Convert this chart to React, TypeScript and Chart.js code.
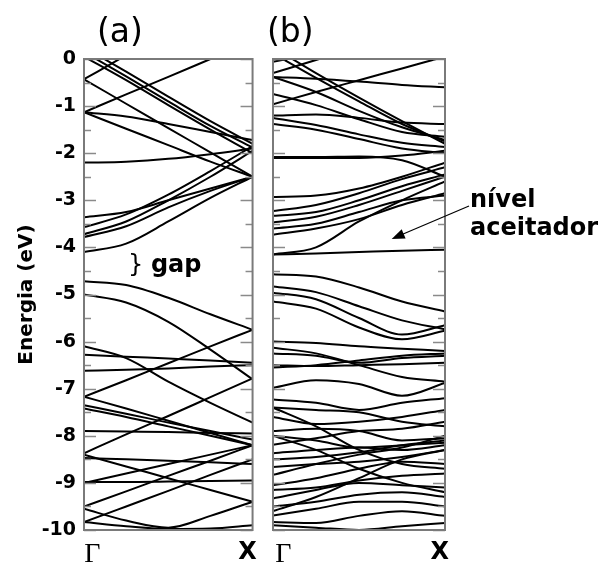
import React, { useEffect, useRef } from "react";
import { Chart, registerables } from "chart.js";
Chart.register(...registerables);

// k-path sample positions (Γ → X), fraction of the path
const kPath = [0, 0.25, 0.5, 0.75, 1];
const xTickLabels = ["Γ", "X"];
const energyMin = -10;
const energyMax = 0;

// Panel (a): band energies (eV) at the kPath points
const bandsA: number[][] = [
  [0.25, -0.27, -0.8, -1.32, -1.8],
  [0.15, -0.37, -0.9, -1.42, -1.88],
  [0.05, -0.45, -0.98, -1.5, -2.0],
  [-0.43, -0.95, -1.47, -1.98, -2.5],
  [-0.43, 0.08, 0.6, 1.1, 1.6],
  [-1.13, -0.75, -0.38, 0.0, 0.38],
  [-1.13, -1.22, -1.38, -1.55, -1.72],
  [-1.13, -1.48, -1.83, -2.18, -2.5],
  [-2.2, -2.18, -2.12, -2.02, -1.9],
  [-3.36, -3.25, -3.0, -2.75, -2.5],
  [-3.57, -3.3, -2.88, -2.38, -1.85],
  [-3.72, -3.45, -3.0, -2.5, -1.95],
  [-3.78, -3.55, -3.15, -2.8, -2.5],
  [-4.1, -3.92, -3.45, -2.95, -2.5],
  [-4.72, -4.8, -5.07, -5.42, -5.75],
  [-5.0, -5.17, -5.58, -6.17, -6.8],
  [-7.17, -6.82, -6.46, -6.1, -5.75],
  [-6.1, -6.35, -6.85, -7.3, -7.72],
  [-6.28, -6.32, -6.36, -6.4, -6.45],
  [-6.62, -6.6, -6.57, -6.53, -6.5],
  [-7.17, -7.42, -7.68, -7.94, -8.2],
  [-7.35, -7.53, -7.72, -7.9, -8.08],
  [-7.42, -7.6, -7.8, -8.0, -8.2],
  [-7.9, -7.91, -7.92, -7.94, -7.95],
  [-8.37, -7.97, -7.58, -7.18, -6.78],
  [-8.47, -8.5, -8.53, -8.56, -8.6],
  [-8.98, -8.98, -8.97, -8.96, -8.95],
  [-9.5, -9.18, -8.85, -8.53, -8.2],
  [-9.83, -9.5, -9.17, -8.83, -8.5],
  [-9.55, -9.8, -9.95, -9.7, -9.4],
  [-8.4, -8.65, -8.9, -9.15, -9.4],
  [-9.0, -8.8, -8.6, -8.4, -8.2],
  [-9.83, -9.92, -9.98, -9.97, -9.9],
];

// Panel (b): band energies (eV) at the kPath points
const bandsB: number[][] = [
  [-0.06, 0.12, 0.3, 0.5, 0.7],
  [0.25, -0.3, -0.82, -1.32, -1.8],
  [0.12, -0.4, -0.9, -1.38, -1.75],
  [-0.38, -0.42, -0.48, -0.55, -0.6],
  [-0.38, -0.7, -1.1, -1.45, -1.72],
  [-0.74, -0.98, -1.28, -1.55, -1.65],
  [-0.3, -0.02, 0.25, 0.5, 0.75],
  [-0.96, -0.7, -0.45, -0.2, 0.05],
  [-1.2, -1.18, -1.25, -1.35, -1.38],
  [-1.25, -1.4, -1.6, -1.78, -1.87],
  [-1.38, -1.5, -1.7, -1.9, -2.0],
  [-2.08, -2.08, -2.07, -2.15, -2.5],
  [-2.1, -2.1, -2.1, -2.05, -1.95],
  [-2.93, -2.9, -2.75, -2.5, -2.2],
  [-3.23, -3.1, -2.85, -2.55, -2.3],
  [-3.33, -3.25, -3.0, -2.7, -2.45],
  [-3.47, -3.35, -3.1, -2.8, -2.5],
  [-3.6, -3.5, -3.25, -3.0, -2.9],
  [-3.73, -3.6, -3.4, -3.1, -2.85],
  [-4.15, -4.0, -3.45, -3.0, -2.6],
  [-4.15, -4.13, -4.1, -4.07, -4.05],
  [-4.57, -4.62, -4.85, -5.15, -5.36],
  [-4.83, -4.95, -5.25, -5.55, -5.74],
  [-4.96, -5.1, -5.5, -5.85, -5.65],
  [-5.15, -5.3, -5.7, -5.95, -5.77],
  [-6.0, -6.03, -6.1, -6.15, -6.2],
  [-6.13, -6.25, -6.5, -6.75, -6.85],
  [-6.25, -6.3, -6.45, -6.35, -6.3],
  [-6.5, -6.52, -6.5, -6.48, -6.45],
  [-6.55, -6.5, -6.4, -6.3, -6.25],
  [-6.98, -6.82, -6.9, -7.15, -6.88],
  [-7.23, -7.3, -7.45, -7.3, -7.2],
  [-7.4, -7.45, -7.5, -7.7, -7.8],
  [-7.6, -7.75, -7.7, -7.6, -7.45],
  [-7.9, -7.85, -7.9, -8.1, -8.05],
  [-8.0, -8.1, -8.25, -8.2, -8.15],
  [-8.19, -8.05, -7.9, -7.85, -7.7],
  [-8.37, -8.3, -8.25, -8.3, -8.2],
  [-8.5, -8.45, -8.35, -8.2, -8.1],
  [-8.66, -8.6, -8.55, -8.45, -8.3],
  [-8.83, -8.6, -8.4, -8.25, -8.0],
  [-9.05, -8.9, -8.7, -8.55, -8.6],
  [-9.15, -9.1, -8.95, -8.85, -8.8],
  [-9.33, -9.15, -9.0, -9.05, -9.1],
  [-9.5, -9.4, -9.25, -9.2, -9.3],
  [-9.69, -9.55, -9.4, -9.4, -9.5],
  [-9.83, -9.85, -9.7, -9.6, -9.7],
  [-9.9, -9.95, -10.0, -9.92, -9.85],
  [-8.0, -8.3, -8.7, -9.0, -9.2],
  [-7.4, -7.8, -8.3, -8.6, -8.7],
  [-9.6, -9.3, -8.9, -8.5, -8.3],
];

const H = 568;

function makeDatasets(bands: number[][]) {
  return bands.map((b) => ({
    data: b.map((e, i) => ({ x: kPath[i], y: e })),
    borderColor: "#000",
    borderWidth: 2,
    pointRadius: 0,
    fill: false,
    cubicInterpolationMode: "monotone" as const,
    clip: 0,
  }));
}

const framePlugin = (withArrow: boolean) => ({
  id: "frame" + (withArrow ? "B" : "A"),
  afterDatasetsDraw(chart: any) {
    const { ctx, chartArea: a, scales } = chart;
    const ys = scales.y;
    ctx.save();
    ctx.strokeStyle = "#8a8a8a";
    ctx.lineWidth = 1.5;
    for (let v = energyMin; v <= energyMax + 1e-9; v += 0.5) {
      const py = Math.round(ys.getPixelForValue(v)) + 0.5;
      const len = Math.abs(v - Math.round(v)) < 1e-6 ? 12 : 7;
      ctx.beginPath();
      ctx.moveTo(a.left, py);
      ctx.lineTo(a.left + len, py);
      ctx.moveTo(a.right - len, py);
      ctx.lineTo(a.right, py);
      ctx.stroke();
    }
    ctx.strokeStyle = "#7a7a7a";
    ctx.lineWidth = 2;
    ctx.strokeRect(a.left, a.top, a.right - a.left, a.bottom - a.top);
    if (withArrow) {
      const xs = scales.x;
      const tx = xs.getPixelForValue(0.69);
      const ty = ys.getPixelForValue(-3.82);
      const sx = a.right + 24;
      const sy = ys.getPixelForValue(-3.12);
      const ang = Math.atan2(ty - sy, tx - sx);
      ctx.strokeStyle = "#000";
      ctx.fillStyle = "#000";
      ctx.lineWidth = 1.2;
      ctx.beginPath();
      ctx.moveTo(sx, sy);
      ctx.lineTo(tx - 8 * Math.cos(ang), ty - 8 * Math.sin(ang));
      ctx.stroke();
      const hl = 13, hw = 5;
      ctx.beginPath();
      ctx.moveTo(tx, ty);
      ctx.lineTo(tx - hl * Math.cos(ang) + hw * Math.sin(ang), ty - hl * Math.sin(ang) - hw * Math.cos(ang));
      ctx.lineTo(tx - hl * Math.cos(ang) - hw * Math.sin(ang), ty - hl * Math.sin(ang) + hw * Math.cos(ang));
      ctx.closePath();
      ctx.fill();
    }
    ctx.restore();
  },
});

function xScale(tickVals: number[]) {
  return {
    type: "linear" as const,
    min: 0,
    max: 1,
    afterBuildTicks: (s: any) => {
      s.ticks = tickVals.map((v) => ({ value: v }));
    },
    afterFit: (s: any) => {
      s.height = 38;
    },
    grid: { display: false, drawTicks: false },
    border: { display: false },
    ticks: {
      autoSkip: false,
      maxRotation: 0,
      padding: 8,
      color: "#000",
      callback: (_v: any, i: number) => xTickLabels[i],
      font: (c: any) =>
        c.index === 0
          ? { family: "'Liberation Serif', serif", size: 28, weight: "normal" }
          : { family: "'DejaVu Sans', sans-serif", size: 24, weight: "bold" },
    },
  };
}

function PanelChart({ which }: { which: "a" | "b" }) {
  const ref = useRef<HTMLCanvasElement>(null);
  useEffect(() => {
    if (!ref.current) return;
    const isA = which === "a";
    const chart = new Chart(ref.current, {
      type: "line",
      data: { datasets: makeDatasets(isA ? bandsA : bandsB) as any },
      options: {
        responsive: false,
        animation: false,
        devicePixelRatio: 1,
        events: [],
        layout: {
          padding: isA
            ? { left: 0, right: 8, top: 59, bottom: 0 }
            : { left: 8, right: 157, top: 59, bottom: 0 },
        },
        plugins: { legend: { display: false }, tooltip: { enabled: false }, title: { display: false } },
        scales: {
          x: xScale(isA ? [0.05, 0.97] : [0.06, 0.97]) as any,
          y: {
            type: "linear",
            min: energyMin,
            max: energyMax,
            display: isA,
            afterFit: (s: any) => {
              s.width = isA ? 84 : 0;
            },
            grid: { display: false, drawTicks: false },
            border: { display: false },
            ticks: {
              stepSize: 1,
              padding: 8,
              color: "#000",
              font: { family: "'DejaVu Sans', sans-serif", size: 19, weight: "bold" },
              callback: (v: any) => String(v),
            },
            title: {
              display: isA,
              text: "Energia (eV)",
              color: "#000",
              font: { family: "'DejaVu Sans', sans-serif", size: 20, weight: "bold" },
              padding: { top: 15, bottom: 0 },
            },
          },
        },
      },
      plugins: [framePlugin(!isA)],
    });
    return () => chart.destroy();
  }, [which]);
  const w = which === "a" ? 265 : 337;
  return (
    <canvas
      ref={ref}
      width={w}
      height={H}
      style={{ position: "absolute", left: which === "a" ? 0 : 265, top: 0, width: w, height: H }}
    />
  );
}

export default function App() {
  const sans = "'DejaVu Sans', sans-serif";
  return (
    <div style={{ position: "absolute", left: 0, top: 0, width: 602, height: 568, background: "#fff", overflow: "hidden" }}>
      <PanelChart which="a" />
      <PanelChart which="b" />
      <div style={{ position: "absolute", left: 97, top: 12, font: `33px/38px ${sans}`, color: "#000" }}>(a)</div>
      <div style={{ position: "absolute", left: 267, top: 12, font: `33px/38px ${sans}`, color: "#000" }}>(b)</div>
      <div style={{ position: "absolute", left: 128, top: 250, font: `24px/28px ${sans}`, color: "#000", whiteSpace: "nowrap" }}>
        <span>{"}"}</span> <span style={{ fontWeight: "bold" }}>gap</span>
      </div>
      <div style={{ position: "absolute", left: 470, top: 185, font: `bold 24px/28px ${sans}`, color: "#000", whiteSpace: "nowrap" }}>
        nível
        <br />
        aceitador
      </div>
    </div>
  );
}
